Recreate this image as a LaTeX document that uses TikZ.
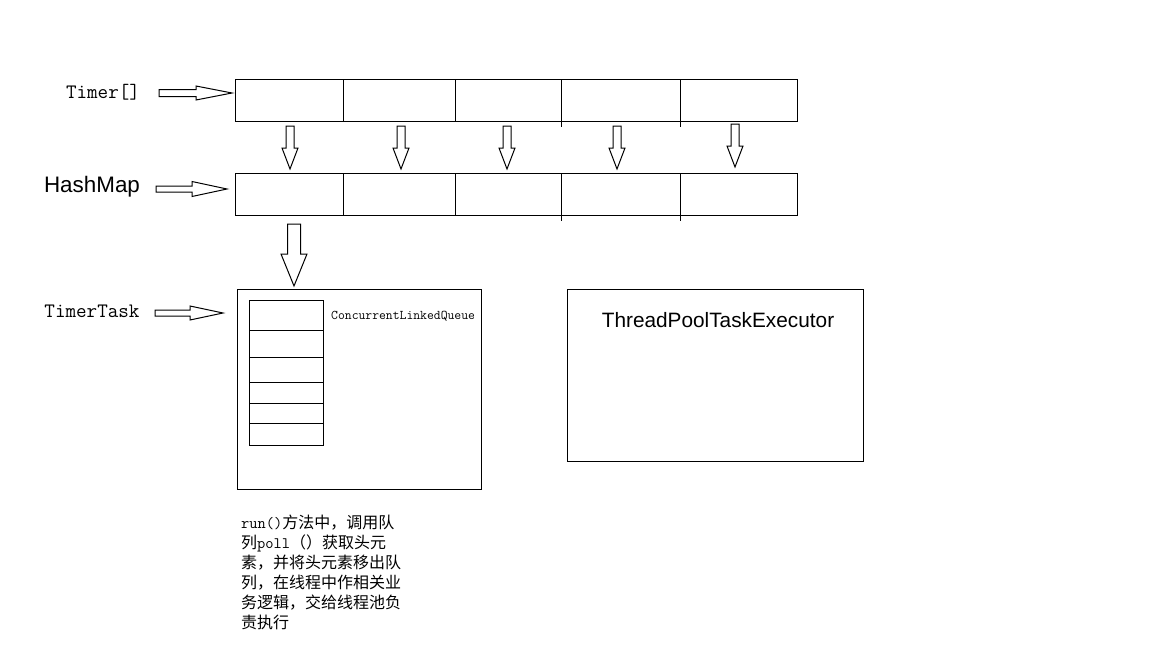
\documentclass[tikz,border=0pt]{standalone}
\usepackage{fontspec}
\setsansfont{Liberation Sans}
\newfontfamily\cjkfont{Noto Sans CJK SC}
\usepackage{tikz}
\usetikzlibrary{positioning,calc}

% hollow block arrow: from, to, shaft half width, head half width, head length
\newcommand{\hollowarrow}[5]{%
  \coordinate (hb) at ($(#2)!#5!(#1)$);
  \draw[line width=1pt, line join=miter, fill=white]
    ($(#1)!#3!90:(#2)$) -- ($(hb)!#3!90:(#2)$) -- ($(hb)!#4!90:(#2)$) -- (#2)
    -- ($(hb)!#4!-90:(#2)$) -- ($(hb)!#3!-90:(#2)$) -- ($(#1)!#3!-90:(#2)$) -- cycle;
}

\begin{document}
\begin{tikzpicture}[
  x=1pt, y=-1pt,
  cell/.style={
    rectangle, draw, line width=1pt,
    minimum height=42pt, inner sep=0pt, outer sep=0pt
  },
  frame/.style={rectangle, draw, line width=1pt, inner sep=0pt, outer sep=0pt},
  slot/.style={frame, minimum width=74pt},
  monolbl/.style={font=\ttfamily\fontsize{20.5}{24}\selectfont, inner sep=0pt},
  tick/.style={line width=1pt}
]
\useasboundingbox (0,0) rectangle (1152,648);

% Timer[] row
\node[cell, minimum width=108pt] (t1) at (289,100) {};
\node[cell, minimum width=112pt, right=0pt of t1] (t2) {};
\node[cell, minimum width=106pt, right=0pt of t2] (t3) {};
\node[cell, minimum width=119pt, right=0pt of t3] (t4) {};
\node[cell, minimum width=117pt, right=0pt of t4] (t5) {};
\draw[tick] (t3.south east) -- ++(0,6);
\draw[tick] (t4.south east) -- ++(0,6);

% HashMap row
\node[cell, minimum width=108pt] (h1) at (289,194) {};
\node[cell, minimum width=112pt, right=0pt of h1] (h2) {};
\node[cell, minimum width=106pt, right=0pt of h2] (h3) {};
\node[cell, minimum width=119pt, right=0pt of h3] (h4) {};
\node[cell, minimum width=117pt, right=0pt of h4] (h5) {};
\draw[tick] (h3.south east) -- ++(0,6);
\draw[tick] (h4.south east) -- ++(0,6);

% labels on the left
\node[monolbl] (timerLbl) at (103,92) {Timer[]};
\node[font=\sffamily\fontsize{22.4}{27}\selectfont, inner sep=0pt] (mapLbl) at (92,187) {HashMap};
\node[monolbl] (taskLbl) at (92,311) {TimerTask};

% TimerTask box with queue
\node[frame, minimum width=244pt, minimum height=200pt] (task) at (359,389) {};
\node[slot, minimum height=30pt] (q1) at (286,315) {};
\node[slot, minimum height=27pt, below=0pt of q1] (q2) {};
\node[slot, minimum height=25pt, below=0pt of q2] (q3) {};
\node[slot, minimum height=21pt, below=0pt of q3] (q4) {};
\node[slot, minimum height=20pt, below=0pt of q4] (q5) {};
\node[slot, minimum height=22pt, below=0pt of q5] (q6) {};
\node[font=\ttfamily\fontsize{13.3}{16}\selectfont, inner sep=0pt, anchor=west] (queueLbl) at (331,316) {ConcurrentLinkedQueue};

% executor box
\node[frame, minimum width=296pt, minimum height=172pt] (pool) at (715,375) {};
\node[font=\sffamily\fontsize{20.8}{25}\selectfont, inner sep=0pt] (poolLbl) at (718,320) {ThreadPoolTaskExecutor};

% note under the task box
\node[anchor=north west, inner sep=0pt, align=left,
      font=\cjkfont\fontsize{16}{20}\selectfont] (note) at (241,515)
  {{\ttfamily run()}方法中，调用队\\列{\ttfamily poll}（）获取头元\\素，并将头元素移出队\\列，在线程中作相关业\\务逻辑，交给线程池负\\责执行};

% arrows from the labels
\coordinate (timerA) at (159,93);
\coordinate (timerB) at ($(t1.west)+(-3,-7)$);
\hollowarrow{timerA}{timerB}{3.5pt}{7pt}{36pt}
\coordinate (mapA) at (156,189);
\coordinate (mapB) at ($(h1.west)+(-8,-5)$);
\hollowarrow{mapA}{mapB}{3pt}{7.5pt}{35pt}
\coordinate (taskA) at (155,313);
\coordinate (taskB) at ($(task.north west)+(-14,24)$);
\hollowarrow{taskA}{taskB}{3pt}{7pt}{33pt}

% Timer[] -> HashMap
\coordinate (d1a) at ($(t1.south)+(1,5)$);   \coordinate (d1b) at ($(h1.north)+(1,-4)$);
\coordinate (d2a) at ($(t2.south)+(2,5)$);   \coordinate (d2b) at ($(h2.north)+(2,-4)$);
\coordinate (d3a) at ($(t3.south)+(-1,5)$);  \coordinate (d3b) at ($(h3.north)+(-1,-4)$);
\coordinate (d4a) at ($(t4.south)+(-3.5,5)$); \coordinate (d4b) at ($(h4.north)+(-3.5,-4)$);
\coordinate (d5a) at ($(t5.south)+(-3.5,3)$); \coordinate (d5b) at ($(h5.north)+(-3.5,-6)$);
\hollowarrow{d1a}{d1b}{4pt}{8pt}{21pt}
\hollowarrow{d2a}{d2b}{4pt}{8pt}{21pt}
\hollowarrow{d3a}{d3b}{4pt}{8pt}{21pt}
\hollowarrow{d4a}{d4b}{4pt}{8pt}{21pt}
\hollowarrow{d5a}{d5b}{4pt}{8pt}{21pt}

% HashMap -> TimerTask
\coordinate (bigA) at ($(h1.south)+(5,9)$);
\coordinate (bigB) at ($(task.north west)+(57,-3)$);
\hollowarrow{bigA}{bigB}{6.5pt}{13pt}{32pt}
\end{tikzpicture}
\end{document}
